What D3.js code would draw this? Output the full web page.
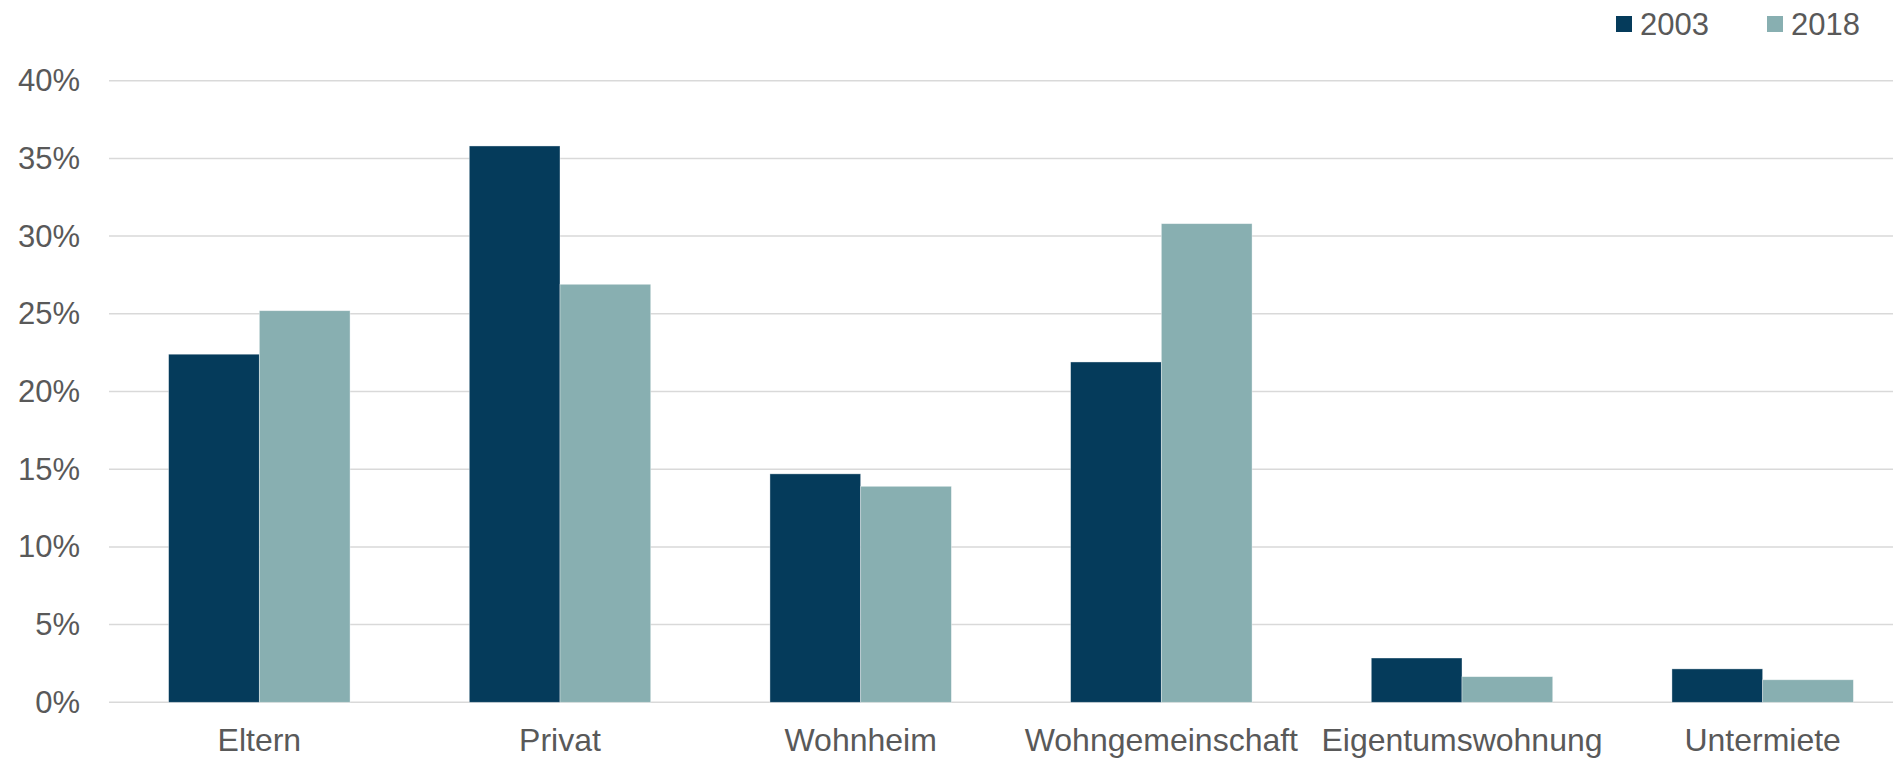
<!DOCTYPE html>
<html>
<head>
<meta charset="utf-8">
<script src="https://cdn.jsdelivr.net/npm/d3@7"></script>
<style>
  body { margin: 0; background: #fff; }
  text { font-family: "Liberation Sans", Arial, sans-serif; fill: #595959; }
</style>
</head>
<body>
<div id="chart"></div>
<script>
// data (percent)
var categories = ["Eltern", "Privat", "Wohnheim", "Wohngemeinschaft", "Eigentumswohnung", "Untermiete"];
var seriesNames = ["2003", "2018"];
var values2003 = [22.4, 35.8, 14.7, 21.9, 2.85, 2.15];
var values2018 = [25.2, 26.9, 13.9, 30.8, 1.65, 1.45];
var yTicks = [0, 5, 10, 15, 20, 25, 30, 35, 40];
var colors = ["#053b5b", "#88afb1"];

var svgWidth = 1893;
var svgHeight = 758;

var margin = { top: 80.7, bottom: 55.7, left: 109, right: -20 };
var plotWidth = svgWidth - margin.left - margin.right;
var plotHeight = svgHeight - margin.top - margin.bottom;

var svg = d3.select("#chart")
    .append("svg")
    .attr("width", svgWidth)
    .attr("height", svgHeight);

var chartGroup = svg.append("g")
    .attr("transform", `translate(${margin.left}, ${margin.top})`);

// scales
var x0 = d3.scaleBand()
    .domain(categories)
    .range([0, plotWidth]);

var x1 = d3.scaleBand()
    .domain(seriesNames)
    .range([0, x0.bandwidth()])
    .paddingInner(0)
    .paddingOuter(0.657);

var y = d3.scaleLinear()
    .domain([0, 40])
    .range([plotHeight, 0]);

// gridlines
chartGroup.append("g")
    .selectAll("line")
    .data(yTicks)
    .enter()
    .append("line")
    .attr("x1", 0)
    .attr("x2", plotWidth)
    .attr("y1", d => y(d))
    .attr("y2", d => y(d))
    .attr("stroke", "#d9d9d9")
    .attr("stroke-width", 1.5);

// y axis labels
var yAxis = d3.axisLeft(y)
    .tickValues(yTicks)
    .tickFormat(d => d + "%")
    .tickSize(0)
    .tickPadding(29);

var yAxisGroup = chartGroup.append("g").call(yAxis);
yAxisGroup.select(".domain").remove();
yAxisGroup.selectAll("text")
    .style("font-size", "31px")
    .attr("fill", "#595959")
    .attr("font-family", "Liberation Sans, Arial, sans-serif");

// bars
var rows = categories.map(function(c, i) {
    return { cat: c, vals: [values2003[i], values2018[i]] };
});

var groups = chartGroup.selectAll(".grp")
    .data(rows)
    .enter()
    .append("g")
    .attr("class", "grp")
    .attr("transform", d => `translate(${x0(d.cat)}, 0)`);

groups.selectAll("rect")
    .data(d => d.vals.map((v, j) => ({ name: seriesNames[j], value: v, idx: j })))
    .enter()
    .append("rect")
    .attr("x", d => x1(d.name))
    .attr("width", x1.bandwidth())
    .attr("y", d => y(d.value))
    .attr("height", d => plotHeight - y(d.value))
    .attr("fill", d => colors[d.idx])
    .attr("stroke", "#ffffff")
    .attr("stroke-opacity", 0.5)
    .attr("stroke-width", 0.75);

// x axis labels
var xAxis = d3.axisBottom(x0).tickSize(0).tickPadding(26);
var xAxisGroup = chartGroup.append("g")
    .attr("transform", `translate(0, ${plotHeight})`)
    .call(xAxis);
xAxisGroup.select(".domain").remove();
xAxisGroup.selectAll("text")
    .style("font-size", "32px")
    .attr("fill", "#595959")
    .attr("font-family", "Liberation Sans, Arial, sans-serif");

// legend
var legendX = [1616, 1767];
var legend = svg.append("g");
seriesNames.forEach(function(name, i) {
    legend.append("rect")
        .attr("x", legendX[i])
        .attr("y", 16)
        .attr("width", 16)
        .attr("height", 16)
        .attr("fill", colors[i]);
    legend.append("text")
        .attr("x", legendX[i] + 24)
        .attr("y", 34.7)
        .style("font-size", "31px")
        .text(name);
});
</script>
</body>
</html>
